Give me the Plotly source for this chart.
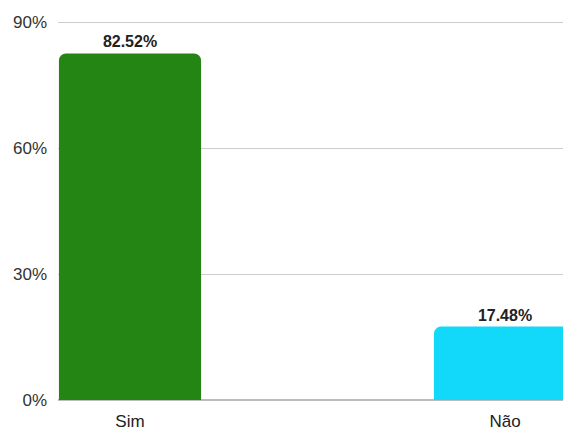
import plotly.graph_objects as go

categories = ["Sim", "Não"]
values = [82.52, 17.48]
labels = ["82.52%", "17.48%"]
colors = ["#248514", "#12d9fa"]
tick_vals = [0, 30, 60, 90]
tick_text = ["0%", "30%", "60%", "90%"]

fig = go.Figure(go.Bar(
    x=categories, y=values, text=labels, textposition="outside",
    marker=dict(color=colors, line=dict(width=0)),
    width=0.379, cliponaxis=False,
    textfont=dict(family="Liberation Sans, Arial, sans-serif", size=16, color="#222222", weight="bold"),
))
fig.update_layout(
    width=563, height=422,
    margin=dict(l=50, r=0, t=13, b=30, autoexpand=False),
    paper_bgcolor="white", plot_bgcolor="white",
    barcornerradius=7,
    showlegend=False,
    font=dict(family="Liberation Sans, Arial, sans-serif", size=17, color="#333333"),
    xaxis=dict(range=[-0.192, 1.176], showgrid=False, ticks="", showline=False, zeroline=False,
               automargin=False, ticklabelstandoff=9, tickfont=dict(size=17, color="#222222")),
    yaxis=dict(range=[0, 90.25], tickvals=tick_vals, ticktext=tick_text, showgrid=True, gridcolor="#cccccc", gridwidth=1,
               zeroline=True, zerolinecolor="#bbbbbb", zerolinewidth=2, ticks="", ticklabelstandoff=10,
               automargin=False, tickfont=dict(size=17, color="#333333")),
)
fig.write_html("out.html")
